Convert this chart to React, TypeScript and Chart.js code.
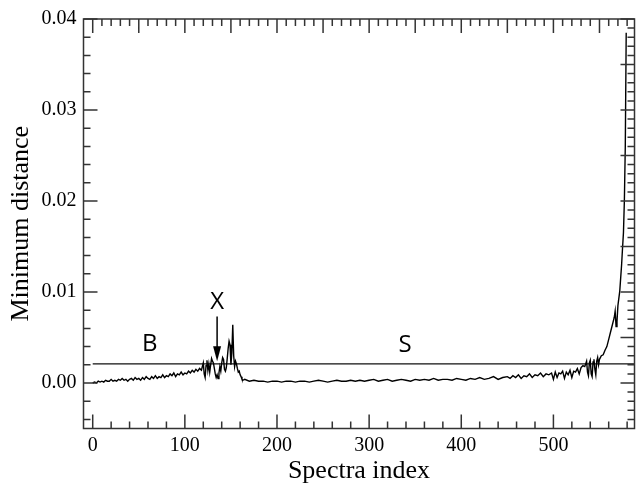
import React, { useEffect, useRef } from "react";
import { Chart, registerables } from "chart.js";

Chart.register(...registerables);

// ---- data ----
const spectraIndex = [
  0, 2, 4, 6, 8, 10, 12, 14, 16, 18, 20, 22, 24, 26, 28, 30, 32, 34, 36, 38,
  40, 42, 44, 46, 48, 50, 52, 54, 56, 58, 60, 62, 64, 66, 68, 70, 72, 74, 76, 78,
  80, 82, 84, 86, 88, 90, 92, 94, 96, 98, 100, 102, 104, 106, 108, 110, 112, 114, 116, 118,
  120, 121, 122, 123, 124, 125, 126, 127, 128, 129, 130, 131, 132, 133, 134, 135, 136, 137, 138, 139,
  140, 141, 142, 143, 144, 145, 146, 147, 148, 149, 150, 151, 152, 153, 154, 155, 156, 157, 158, 159,
  160, 161, 162, 163, 165, 170, 175, 180, 185, 190, 195, 200, 205, 210, 215, 220, 225, 230, 235, 240,
  245, 250, 255, 260, 265, 270, 275, 280, 285, 290, 295, 300, 305, 310, 315, 320, 325, 330, 335, 340,
  345, 350, 355, 360, 365, 370, 375, 380, 385, 390, 395, 400, 405, 410, 415, 420, 425, 430, 435, 440,
  445, 450, 453, 456, 459, 462, 465, 468, 471, 474, 477, 480, 483, 486, 489, 492, 495, 498, 500, 502,
  504, 506, 508, 510, 512, 514, 516, 518, 520, 522, 524, 526, 528, 530, 532, 534, 536, 537, 538, 539,
  540, 541, 542, 543, 544, 545, 546, 547, 548, 549, 550, 552, 554, 556, 558, 560, 562, 564, 566, 567,
  568, 569, 570, 572, 574, 575, 576, 577, 578, 579,
];
const minimumDistance = [
  0.0000, 0.0001, 0.0000, 0.0002, 0.0001, 0.0002, 0.0001, 0.0003, 0.0002, 0.0002, 0.0004, 0.0002, 0.0003, 0.0002, 0.0004, 0.0003, 0.0005, 0.0003, 0.0004, 0.0002,
  0.0004, 0.0005, 0.0003, 0.0006, 0.0004, 0.0005, 0.0003, 0.0006, 0.0004, 0.0007, 0.0005, 0.0004, 0.0007, 0.0005, 0.0008, 0.0005, 0.0007, 0.0006, 0.0009, 0.0006,
  0.0008, 0.0007, 0.0010, 0.0008, 0.0011, 0.0007, 0.0010, 0.0009, 0.0012, 0.0009, 0.0011, 0.0010, 0.0013, 0.0011, 0.0014, 0.0012, 0.0015, 0.0013, 0.0016, 0.0014,
  0.0022, 0.0010, 0.0006, 0.0019, 0.0025, 0.0014, 0.0021, 0.0012, 0.0020, 0.0027, 0.0024, 0.0022, 0.0016, 0.0010, 0.0006, 0.0009, 0.0005, 0.0011, 0.0018, 0.0013,
  0.0022, 0.0028, 0.0026, 0.0015, 0.0013, 0.0017, 0.0027, 0.0038, 0.0046, 0.0042, 0.0020, 0.0033, 0.0064, 0.0030, 0.0018, 0.0024, 0.0021, 0.0016, 0.0012, 0.0013,
  0.0009, 0.0007, 0.0004, 0.0003, 0.0004, 0.0002, 0.0003, 0.0002, 0.0002, 0.0001, 0.0002, 0.0002, 0.0001, 0.0002, 0.0002, 0.0001, 0.0002, 0.0002, 0.0001, 0.0002,
  0.0003, 0.0002, 0.0001, 0.0002, 0.0003, 0.0002, 0.0002, 0.0003, 0.0002, 0.0003, 0.0002, 0.0003, 0.0004, 0.0002, 0.0003, 0.0004, 0.0002, 0.0003, 0.0004, 0.0003,
  0.0002, 0.0004, 0.0003, 0.0004, 0.0003, 0.0005, 0.0003, 0.0004, 0.0004, 0.0003, 0.0005, 0.0004, 0.0003, 0.0005, 0.0004, 0.0006, 0.0004, 0.0005, 0.0007, 0.0004,
  0.0006, 0.0007, 0.0005, 0.0008, 0.0006, 0.0009, 0.0005, 0.0008, 0.0007, 0.0010, 0.0006, 0.0009, 0.0008, 0.0011, 0.0007, 0.0010, 0.0009, 0.0011, 0.0004, 0.0012,
  0.0006, 0.0011, 0.0010, 0.0013, 0.0005, 0.0012, 0.0009, 0.0014, 0.0006, 0.0013, 0.0012, 0.0016, 0.0010, 0.0017, 0.0019, 0.0018, 0.0024, 0.0012, 0.0008, 0.0022,
  0.0025, 0.0010, 0.0007, 0.0023, 0.0026, 0.0015, 0.0009, 0.0024, 0.0028, 0.0020, 0.0026, 0.0030, 0.0031, 0.0036, 0.0040, 0.0048, 0.0056, 0.0064, 0.0072, 0.0079,
  0.0062, 0.0068, 0.0085, 0.0101, 0.0130, 0.0148, 0.0165, 0.0200, 0.0260, 0.0385,
];
const thresholdValue = 0.0021;
const thresholdRange = [0, 588];
const xTickLabels = [0, 100, 200, 300, 400, 500];
const yTickLabels = [0, 0.01, 0.02, 0.03, 0.04];
const regionLabels = ["B", "X", "S"];
const regionLabelX = [62, 135, 339];
const regionLabelY = [0.0043, 0.0089, 0.0042];
const arrowX = 135;
const arrowFrom = 0.0073;
const arrowTo = 0.0024;

const AXIS_COLOR = "#333";
const SERIF = "'Liberation Serif', 'Times New Roman', serif";
const SANS = "'Open Sans', 'DejaVu Sans', sans-serif";

const framePlugin = {
  id: "frame",
  afterDatasetsDraw(chart: any) {
    const { ctx, chartArea, scales } = chart;
    const { left, right, top, bottom } = chartArea;
    const x = scales.x;
    const y = scales.y;
    ctx.save();
    ctx.strokeStyle = AXIS_COLOR;
    ctx.lineWidth = 1.5;
    ctx.strokeRect(left, top, right - left, bottom - top);
    ctx.beginPath();
    // bottom ticks: every 20, major every 100
    for (let k = 0; k <= 29; k++) {
      const v = k * 20;
      const px = x.getPixelForValue(v);
      const len = v % 100 === 0 ? 14 : 7;
      ctx.moveTo(px, bottom);
      ctx.lineTo(px, bottom - len);
    }
    // top ticks: every 10, major every 50
    for (let k = 0; k <= 58; k++) {
      const v = k * 10;
      const px = x.getPixelForValue(v);
      const len = v % 50 === 0 ? 14 : 7;
      ctx.moveTo(px, top);
      ctx.lineTo(px, top + len);
    }
    // left ticks: every 0.002, major every 0.01
    for (let k = -2; k <= 20; k++) {
      const py = y.getPixelForValue(k * 0.002);
      const len = k % 5 === 0 ? 14 : 7;
      ctx.moveTo(left, py);
      ctx.lineTo(left + len, py);
    }
    // right ticks: every 0.001, major every 0.005
    for (let k = -4; k <= 40; k++) {
      const py = y.getPixelForValue(k * 0.001);
      const len = k % 5 === 0 ? 14 : 7;
      ctx.moveTo(right, py);
      ctx.lineTo(right - len, py);
    }
    ctx.stroke();

    // annotations
    ctx.fillStyle = "#000";
    ctx.font = `24px ${SANS}`;
    ctx.textAlign = "center";
    ctx.textBaseline = "middle";
    regionLabels.forEach((t, i) => {
      ctx.fillText(t, x.getPixelForValue(regionLabelX[i]), y.getPixelForValue(regionLabelY[i]));
    });
    const ax = x.getPixelForValue(arrowX);
    const ay0 = y.getPixelForValue(arrowFrom);
    const ay1 = y.getPixelForValue(arrowTo);
    ctx.strokeStyle = "#000";
    ctx.lineWidth = 1.5;
    ctx.beginPath();
    ctx.moveTo(ax, ay0);
    ctx.lineTo(ax, ay1 - 10);
    ctx.stroke();
    ctx.beginPath();
    ctx.moveTo(ax, ay1);
    ctx.lineTo(ax - 4, ay1 - 15);
    ctx.lineTo(ax + 4, ay1 - 15);
    ctx.closePath();
    ctx.fill();
    ctx.restore();
  },
};

export default function App() {
  const canvasRef = useRef<HTMLCanvasElement | null>(null);

  useEffect(() => {
    document.body.style.margin = "0";
    const canvas = canvasRef.current;
    if (!canvas) return;
    const chart = new Chart(canvas, {
      type: "line",
      data: {
        datasets: [
          {
            data: spectraIndex.map((v, i) => ({ x: v, y: minimumDistance[i] })),
            borderColor: "#000",
            borderWidth: 1.4,
            pointRadius: 0,
            tension: 0,
          },
          {
            data: thresholdRange.map((v) => ({ x: v, y: thresholdValue })),
            borderColor: "#111",
            borderWidth: 1.4,
            pointRadius: 0,
          },
        ],
      },
      options: {
        animation: false,
        responsive: false,
        events: [],
        layout: { padding: { top: 15, right: 1.5, left: 0, bottom: 0 } },
        plugins: { legend: { display: false }, tooltip: { enabled: false } },
        scales: {
          x: {
            type: "linear",
            min: -10,
            max: 588,
            grid: { display: false, drawTicks: false },
            border: { display: false },
            afterBuildTicks: (scale: any) => {
              scale.ticks = xTickLabels.map((v) => ({ value: v }));
            },
            afterFit: (scale: any) => {
              scale.height = 58.5;
            },
            ticks: {
              color: "#000",
              font: { family: SERIF, size: 20 },
              padding: 5,
              maxRotation: 0,
              autoSkip: false,
              callback: (v: any) => String(v),
            },
            title: {
              display: true,
              text: "Spectra index",
              color: "#000",
              font: { family: SERIF, size: 26 },
              padding: { top: 0, bottom: 0 },
            },
          },
          y: {
            type: "linear",
            min: -0.005,
            max: 0.04,
            grid: { display: false, drawTicks: false },
            border: { display: false },
            afterBuildTicks: (scale: any) => {
              scale.ticks = yTickLabels.map((v) => ({ value: v }));
            },
            afterFit: (scale: any) => {
              scale.width = 83.5;
            },
            ticks: {
              color: "#000",
              font: { family: SERIF, size: 20 },
              padding: 7,
              autoSkip: false,
              callback: (v: any) => Number(v).toFixed(2),
            },
            title: {
              display: true,
              text: "Minimum distance",
              color: "#000",
              font: { family: SERIF, size: 26 },
              padding: { top: 6, bottom: 0 },
            },
          },
        },
      },
      plugins: [framePlugin],
    });
    return () => chart.destroy();
  }, []);

  return (
    <div style={{ width: 636, height: 487 }}>
      <canvas ref={canvasRef} width={636} height={487} style={{ display: "block" }} />
    </div>
  );
}
